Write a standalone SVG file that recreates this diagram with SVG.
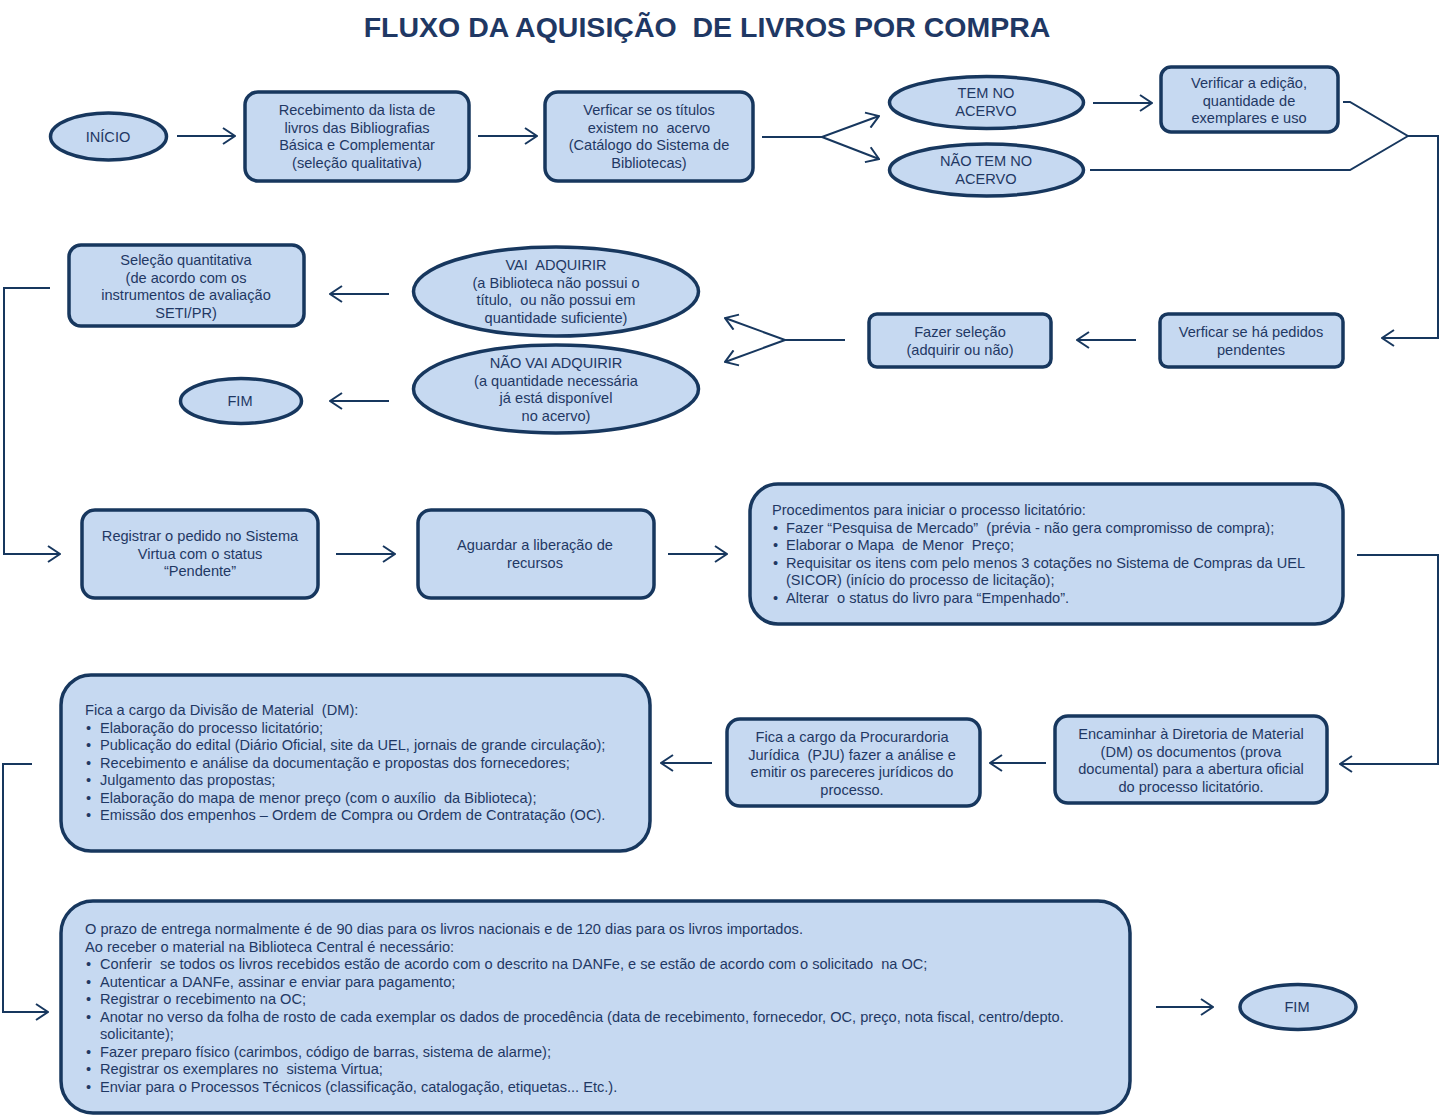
<svg xmlns="http://www.w3.org/2000/svg" width="1440" height="1116" viewBox="0 0 1440 1116">
<style>
.n{fill:#c6d9f1;stroke:#17375e;stroke-width:3.5}
.t{font-family:"Liberation Sans",Arial,sans-serif;font-size:14.6px;fill:#1f3864;white-space:pre}
.c{text-anchor:middle}
.k{fill:none;stroke:#17375e;stroke-width:2}
.title{font-family:"Liberation Sans",Arial,sans-serif;font-size:28.5px;font-weight:bold;fill:#1f3864;text-anchor:middle;white-space:pre}
</style>
<defs>
<marker id="a" viewBox="0 0 14 18" refX="13" refY="9" markerWidth="14" markerHeight="18" markerUnits="userSpaceOnUse" orient="auto">
<path d="M1,1 L13,9 L1,17" fill="none" stroke="#17375e" stroke-width="2"/>
</marker>
</defs>
<rect width="1440" height="1116" fill="#ffffff"/>
<text class="title" x="707" y="37">FLUXO DA AQUISIÇÃO  DE LIVROS POR COMPRA</text>

<g id="connectors">
<path class="k" d="M177,136 L235,136" marker-end="url(#a)"/>
<path class="k" d="M478,136 L537,136" marker-end="url(#a)"/>
<path class="k" d="M762,137 L822,137 L879,116" marker-end="url(#a)"/>
<path class="k" d="M822,137 L879,159" marker-end="url(#a)"/>
<path class="k" d="M1093,103 L1152,103" marker-end="url(#a)"/>
<path class="k" d="M1343,102 L1350,102 L1408,136 L1438,136 L1438,338 L1382,338" marker-end="url(#a)"/>
<path class="k" d="M1090,170 L1350,170 L1408,136"/>
<path class="k" d="M1136,340 L1077,340" marker-end="url(#a)"/>
<path class="k" d="M845,340 L785,340 L725,318" marker-end="url(#a)"/>
<path class="k" d="M785,340 L725,362" marker-end="url(#a)"/>
<path class="k" d="M389,294 L330,294" marker-end="url(#a)"/>
<path class="k" d="M389,401 L330,401" marker-end="url(#a)"/>
<path class="k" d="M50,288 L4,288 L4,554 L60,554" marker-end="url(#a)"/>
<path class="k" d="M336,554 L395,554" marker-end="url(#a)"/>
<path class="k" d="M668,554 L727,554" marker-end="url(#a)"/>
<path class="k" d="M1357,555 L1438,555 L1438,764 L1340,764" marker-end="url(#a)"/>
<path class="k" d="M1046,763 L990,763" marker-end="url(#a)"/>
<path class="k" d="M712,763 L661,763" marker-end="url(#a)"/>
<path class="k" d="M32,764 L3,764 L3,1012 L48,1012" marker-end="url(#a)"/>
<path class="k" d="M1156,1007 L1213,1007" marker-end="url(#a)"/>
</g>

<g id="inicio">
<ellipse class="n" cx="108.5" cy="136.5" rx="58" ry="23.5"/>
<text class="t c" x="108" y="142">INÍCIO</text>
</g>

<g id="recebimento">
<rect class="n" x="245" y="92" width="224" height="89" rx="13"/>
<text class="t c"><tspan x="357" y="115">Recebimento da lista de</tspan><tspan x="357" y="133">livros das Bibliografias</tspan><tspan x="357" y="150">Básica e Complementar</tspan><tspan x="357" y="168">(seleção qualitativa)</tspan></text>
</g>

<g id="verificar-titulos">
<rect class="n" x="545" y="92" width="208" height="89" rx="13"/>
<text class="t c"><tspan x="649" y="115">Verficar se os títulos</tspan><tspan x="649" y="133">existem no  acervo</tspan><tspan x="649" y="150">(Catálogo do Sistema de</tspan><tspan x="649" y="168">Bibliotecas)</tspan></text>
</g>

<g id="tem-no-acervo">
<ellipse class="n" cx="986.5" cy="102.5" rx="97" ry="26"/>
<text class="t c"><tspan x="986" y="98">TEM NO</tspan><tspan x="986" y="116">ACERVO</tspan></text>
</g>

<g id="nao-tem-no-acervo">
<ellipse class="n" cx="986.5" cy="170" rx="97" ry="26"/>
<text class="t c"><tspan x="986" y="166">NÃO TEM NO</tspan><tspan x="986" y="184">ACERVO</tspan></text>
</g>

<g id="verificar-edicao">
<rect class="n" x="1161" y="67" width="177" height="65" rx="10"/>
<text class="t c"><tspan x="1249" y="88">Verificar a edição,</tspan><tspan x="1249" y="106">quantidade de</tspan><tspan x="1249" y="123">exemplares e uso</tspan></text>
</g>

<g id="pedidos-pendentes">
<rect class="n" x="1160" y="314" width="183" height="53" rx="8"/>
<text class="t c"><tspan x="1251" y="337">Verficar se há pedidos</tspan><tspan x="1251" y="355">pendentes</tspan></text>
</g>

<g id="fazer-selecao">
<rect class="n" x="869" y="314" width="182" height="53" rx="8"/>
<text class="t c"><tspan x="960" y="337">Fazer seleção</tspan><tspan x="960" y="355">(adquirir ou não)</tspan></text>
</g>

<g id="vai-adquirir">
<ellipse class="n" cx="556" cy="291.5" rx="142.5" ry="44.5"/>
<text class="t c"><tspan x="556" y="270">VAI  ADQUIRIR</tspan><tspan x="556" y="288">(a Biblioteca não possui o</tspan><tspan x="556" y="305">título,  ou não possui em</tspan><tspan x="556" y="323">quantidade suficiente)</tspan></text>
</g>

<g id="nao-vai-adquirir">
<ellipse class="n" cx="556" cy="389" rx="142.5" ry="44"/>
<text class="t c"><tspan x="556" y="368">NÃO VAI ADQUIRIR</tspan><tspan x="556" y="386">(a quantidade necessária</tspan><tspan x="556" y="403">já está disponível</tspan><tspan x="556" y="421">no acervo)</tspan></text>
</g>

<g id="selecao-quantitativa">
<rect class="n" x="69" y="245" width="235" height="81" rx="12"/>
<text class="t c"><tspan x="186" y="265">Seleção quantitativa</tspan><tspan x="186" y="283">(de acordo com os</tspan><tspan x="186" y="300">instrumentos de avaliação</tspan><tspan x="186" y="318">SETI/PR)</tspan></text>
</g>

<g id="fim-1">
<ellipse class="n" cx="241" cy="401" rx="60.5" ry="22.5"/>
<text class="t c" x="240" y="406">FIM</text>
</g>

<g id="registrar-pedido">
<rect class="n" x="82" y="510" width="236" height="88" rx="13"/>
<text class="t c"><tspan x="200" y="541">Registrar o pedido no Sistema</tspan><tspan x="200" y="559">Virtua com o status</tspan><tspan x="200" y="576">“Pendente”</tspan></text>
</g>

<g id="aguardar">
<rect class="n" x="418" y="510" width="236" height="88" rx="13"/>
<text class="t c"><tspan x="535" y="550">Aguardar a liberação de</tspan><tspan x="535" y="568">recursos</tspan></text>
</g>

<g id="procedimentos">
<rect class="n" x="750" y="484" width="593" height="140" rx="28"/>
<text class="t"><tspan x="772" y="515">Procedimentos para iniciar o processo licitatório:</tspan></text>
<text class="t"><tspan x="773" y="533">•</tspan><tspan x="786" y="533">Fazer “Pesquisa de Mercado”  (prévia - não gera compromisso de compra);</tspan><tspan x="773" y="550">•</tspan><tspan x="786" y="550">Elaborar o Mapa  de Menor  Preço;</tspan><tspan x="773" y="568">•</tspan><tspan x="786" y="568">Requisitar os itens com pelo menos 3 cotações no Sistema de Compras da UEL</tspan><tspan x="786" y="585">(SICOR) (início do processo de licitação);</tspan><tspan x="773" y="603">•</tspan><tspan x="786" y="603">Alterar  o status do livro para “Empenhado”.</tspan></text>
</g>

<g id="encaminhar">
<rect class="n" x="1055" y="716" width="272" height="87" rx="13"/>
<text class="t c"><tspan x="1191" y="739">Encaminhar à Diretoria de Material</tspan><tspan x="1191" y="757">(DM) os documentos (prova</tspan><tspan x="1191" y="774">documental) para a abertura oficial</tspan><tspan x="1191" y="792">do processo licitatório.</tspan></text>
</g>

<g id="procuradoria">
<rect class="n" x="727" y="719" width="253" height="87" rx="13"/>
<text class="t c"><tspan x="852" y="742">Fica a cargo da Procurardoria</tspan><tspan x="852" y="760">Jurídica  (PJU) fazer a análise e</tspan><tspan x="852" y="777">emitir os pareceres jurídicos do</tspan><tspan x="852" y="795">processo.</tspan></text>
</g>

<g id="divisao-material">
<rect class="n" x="61" y="675" width="589" height="176" rx="30"/>
<text class="t"><tspan x="85" y="715">Fica a cargo da Divisão de Material  (DM):</tspan></text>
<text class="t"><tspan x="86" y="733">•</tspan><tspan x="100" y="733">Elaboração do processo licitatório;</tspan><tspan x="86" y="750">•</tspan><tspan x="100" y="750">Publicação do edital (Diário Oficial, site da UEL, jornais de grande circulação);</tspan><tspan x="86" y="768">•</tspan><tspan x="100" y="768">Recebimento e análise da documentação e propostas dos fornecedores;</tspan><tspan x="86" y="785">•</tspan><tspan x="100" y="785">Julgamento das propostas;</tspan><tspan x="86" y="803">•</tspan><tspan x="100" y="803">Elaboração do mapa de menor preço (com o auxílio  da Biblioteca);</tspan><tspan x="86" y="820">•</tspan><tspan x="100" y="820">Emissão dos empenhos – Ordem de Compra ou Ordem de Contratação (OC).</tspan></text>
</g>

<g id="recebimento-material">
<rect class="n" x="61" y="901" width="1069" height="212" rx="32"/>
<text class="t"><tspan x="85" y="934">O prazo de entrega normalmente é de 90 dias para os livros nacionais e de 120 dias para os livros importados.</tspan><tspan x="85" y="952">Ao receber o material na Biblioteca Central é necessário:</tspan></text>
<text class="t"><tspan x="86" y="969">•</tspan><tspan x="100" y="969">Conferir  se todos os livros recebidos estão de acordo com o descrito na DANFe, e se estão de acordo com o solicitado  na OC;</tspan><tspan x="86" y="987">•</tspan><tspan x="100" y="987">Autenticar a DANFe, assinar e enviar para pagamento;</tspan><tspan x="86" y="1004">•</tspan><tspan x="100" y="1004">Registrar o recebimento na OC;</tspan><tspan x="86" y="1022">•</tspan><tspan x="100" y="1022">Anotar no verso da folha de rosto de cada exemplar os dados de procedência (data de recebimento, fornecedor, OC, preço, nota fiscal, centro/depto.</tspan><tspan x="100" y="1039">solicitante);</tspan><tspan x="86" y="1057">•</tspan><tspan x="100" y="1057">Fazer preparo físico (carimbos, código de barras, sistema de alarme);</tspan><tspan x="86" y="1074">•</tspan><tspan x="100" y="1074">Registrar os exemplares no  sistema Virtua;</tspan><tspan x="86" y="1092">•</tspan><tspan x="100" y="1092">Enviar para o Processos Técnicos (classificação, catalogação, etiquetas... Etc.).</tspan></text>
</g>

<g id="fim-2">
<ellipse class="n" cx="1298" cy="1007" rx="58" ry="22.5"/>
<text class="t c" x="1297" y="1012">FIM</text>
</g>
</svg>
